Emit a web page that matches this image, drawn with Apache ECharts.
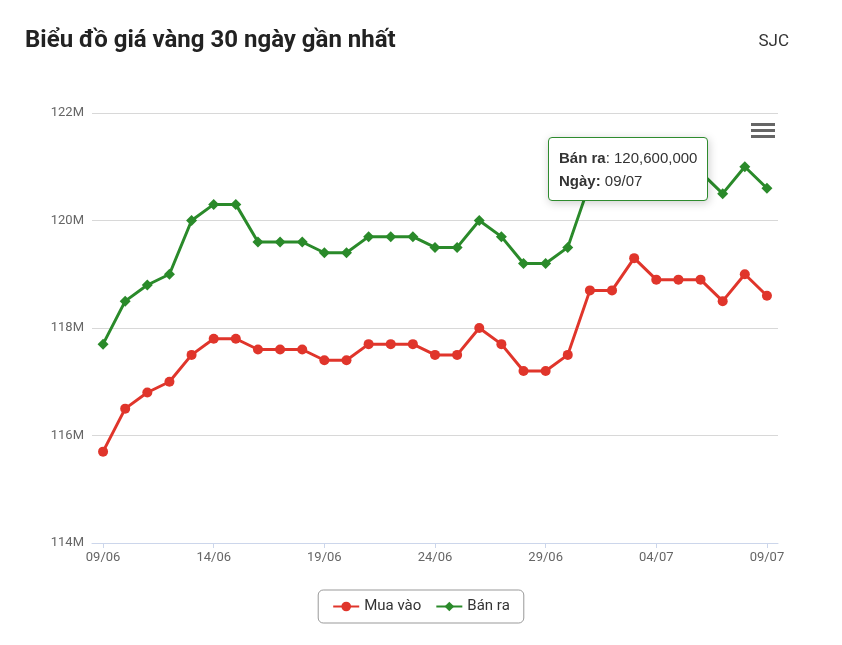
<!DOCTYPE html>
<html><head><meta charset="utf-8">
<script src="https://cdn.jsdelivr.net/npm/echarts@6/dist/echarts.min.js"></script>
<style>html,body{margin:0;padding:0;background:#fff}#c{width:842px;height:645px}</style>
</head><body><div id="c"></div>
<script>
const dates = ['09/06','10/06','11/06','12/06','13/06','14/06','15/06','16/06','17/06','18/06','19/06','20/06','21/06','22/06','23/06','24/06','25/06','26/06','27/06','28/06','29/06','30/06','01/07','02/07','03/07','04/07','05/07','06/07','07/07','08/07','09/07'];
const muaVao = [115.7,116.5,116.8,117.0,117.5,117.8,117.8,117.6,117.6,117.6,117.4,117.4,117.7,117.7,117.7,117.5,117.5,118.0,117.7,117.2,117.2,117.5,118.7,118.7,119.3,118.9,118.9,118.9,118.5,119.0,118.6];
const banRa = [117.7,118.5,118.8,119.0,120.0,120.3,120.3,119.6,119.6,119.6,119.4,119.4,119.7,119.7,119.7,119.5,119.5,120.0,119.7,119.2,119.2,119.5,120.7,120.7,121.3,120.9,120.9,120.9,120.5,121.0,120.6];
const yTicks = [114,116,118,120,122];
const chart = echarts.init(document.getElementById('c'));
const toM = a => a.map(v => Math.round(v*1e6));
chart.setOption({
  animation:false,
  title:[{text:'Biểu đồ giá vàng 30 ngày gần nhất',left:20,top:24,textStyle:{fontFamily:'Roboto',fontSize:24,fontWeight:'bold',color:'#222'}},
         {text:'SJC',right:48,top:28,textStyle:{fontFamily:'Roboto',fontSize:17,fontWeight:'normal',color:'#333'}}],
  grid:{left:92,right:64,top:113,bottom:102},
  xAxis:{type:'category',data:dates,boundaryGap:true,
    axisLine:{lineStyle:{color:'#ccd6eb'}},axisTick:{show:true,interval:4,alignWithLabel:true,lineStyle:{color:'#ccd6eb'}},
    axisLabel:{interval:4,color:'#666',fontSize:13,fontFamily:'Roboto'}},
  yAxis:{type:'value',min:114e6,max:122e6,interval:2e6,
    axisLabel:{color:'#666',fontSize:13,fontFamily:'Roboto',formatter:v=>(v/1e6)+'M'},
    splitLine:{lineStyle:{color:'#d8d8d8'}},axisLine:{show:false},axisTick:{show:false}},
  legend:{bottom:22,left:'center',itemGap:14,padding:[9,14],borderColor:'#999',borderWidth:1,borderRadius:5,
    textStyle:{fontSize:15,color:'#333',fontFamily:'Roboto'},itemWidth:26,itemHeight:12},
  tooltip:{trigger:'item',alwaysShowContent:true,position:[548,137],backgroundColor:'#ffffff',borderColor:'#2e8b2e',borderWidth:1,
    padding:[8,10],textStyle:{fontSize:15,color:'#333'},
    formatter:p=>'<b>'+p.seriesName+'</b>: '+p.value.toLocaleString('en-US')+'<br><b>Ngày:</b> '+p.name},
  series:[
    {name:'Mua vào',type:'line',data:toM(muaVao),color:'#e0352b',symbol:'circle',symbolSize:10,lineStyle:{width:3}},
    {name:'Bán ra',type:'line',data:toM(banRa),color:'#2a8a2a',symbol:'diamond',symbolSize:11,lineStyle:{width:3}}
  ],
  graphic:[0,1,2].map(i=>({type:'rect',shape:{x:751,y:123+i*6,width:24,height:3},style:{fill:'#666'}}))
});
chart.dispatchAction({type:'showTip',seriesIndex:1,dataIndex:30});
</script></body></html>
